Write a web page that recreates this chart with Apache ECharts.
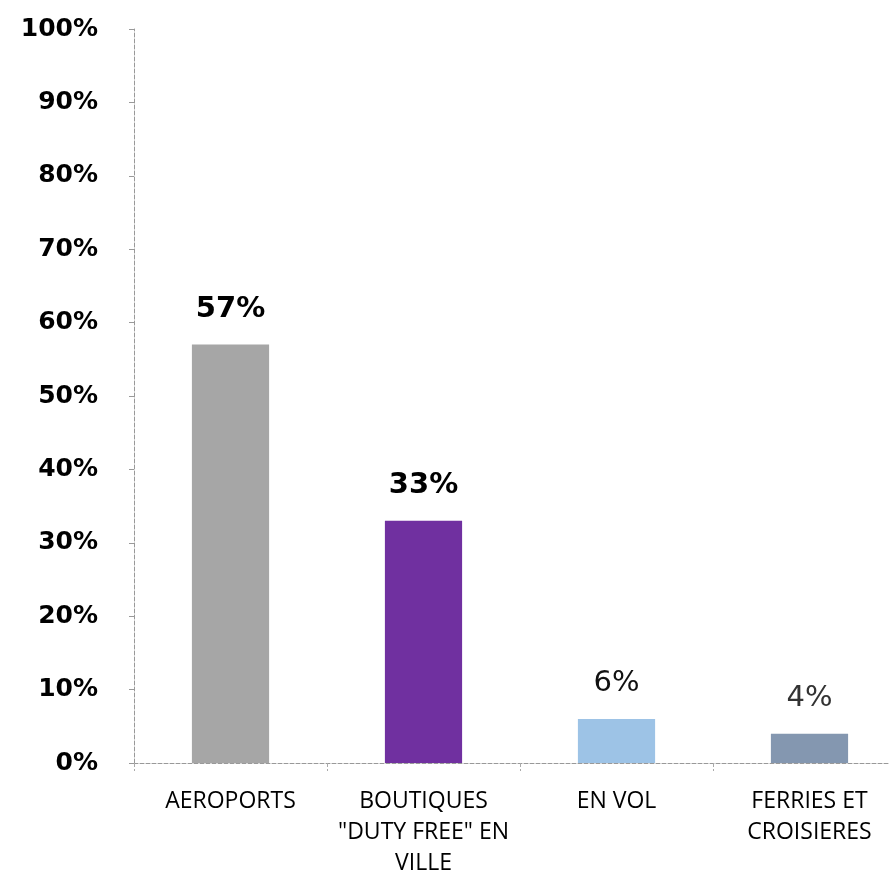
<!DOCTYPE html>
<html>
<head>
<meta charset="utf-8">
<script src="https://cdn.jsdelivr.net/npm/echarts@6/dist/echarts.min.js"></script>
<style>
  html, body { margin: 0; padding: 0; background: #fff; }
  #chart { width: 889px; height: 876px; }
</style>
</head>
<body>
<div id="chart"></div>
<script>
// Sales channels and their share (%)
const categories = ['AEROPORTS', 'BOUTIQUES\n"DUTY FREE" EN\nVILLE', 'EN VOL', 'FERRIES ET\nCROISIERES'];
const shares = [57, 33, 6, 4];
const barColors = ['#a6a6a6', '#7030a0', '#9dc3e6', '#8497b0'];
const labelWeights = ['bold', 'bold', 'normal', 'normal'];
const labelColors = ['#000', '#000', '#111', '#333'];

const chart = echarts.init(document.getElementById('chart'));

const data = shares.map((v, i) => ({
  value: v,
  itemStyle: { color: barColors[i] },
  label: { fontWeight: labelWeights[i], color: labelColors[i] }
}));

chart.setOption({
  animation: false,
  backgroundColor: '#fff',
  grid: { left: 134, right: -17, top: 29, bottom: 113, outerBoundsMode: 'none', containLabel: false },
  xAxis: {
    type: 'category',
    data: categories,
    axisLine: { lineStyle: { color: '#999', type: 'dashed', width: 1 } },
    axisTick: { show: true, interval: 0, length: 8, lineStyle: { color: '#aaa', type: 'dashed' } },
    axisLabel: {
      interval: 0,
      margin: 23,
      color: '#000',
      fontFamily: 'Open Sans',
      fontSize: 23,
      lineHeight: 31
    },
    splitLine: { show: false }
  },
  yAxis: {
    type: 'value',
    min: 0,
    max: 100,
    interval: 10,
    axisLine: { show: true, lineStyle: { color: '#999', type: 'dashed', width: 1 } },
    axisTick: { show: true, length: 5, lineStyle: { color: '#999' } },
    axisLabel: {
      formatter: '{value}%',
      margin: 36,
      color: '#000',
      fontFamily: 'DejaVu Sans',
      fontWeight: 'bold',
      fontSize: 25
    },
    splitLine: { show: false }
  },
  series: [{
    type: 'bar',
    data: data,
    barWidth: '40%',
    label: {
      show: true,
      position: 'top',
      distance: 21,
      formatter: '{c}%',
      fontFamily: 'DejaVu Sans',
      fontSize: 29
    }
  }]
});
</script>
</body>
</html>
